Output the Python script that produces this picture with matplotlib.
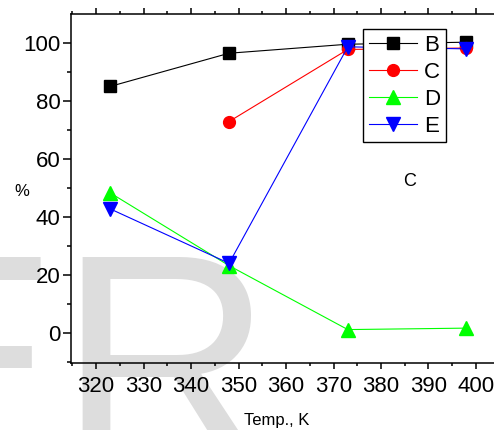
import matplotlib
matplotlib.use('Agg')
import matplotlib.pyplot as plt
from matplotlib.ticker import MultipleLocator

plt.rcParams['font.family'] = ['Liberation Sans', 'DejaVu Sans']

# Dados
temp = [323, 348, 373, 398]
serie_b = [85, 96.4, 99.5, 100.2]
temp_c = [348, 373, 398]
serie_c = [72.9, 97.7, 98.2]
serie_d = [48.3, 23.3, 1.3, 1.8]
serie_e = [42.8, 24.1, 98.6, 97.9]

fig = plt.figure(figsize=(4.94, 4.30), dpi=100)

# marca d'água ao fundo
fig.text(-0.2815, -0.0744, 'ER', fontsize=214, color='#dddddd',
         ha='left', va='baseline', zorder=-5)

ax = fig.add_axes([71 / 494, 67 / 430, 1 - 71 / 494, (363 - 14) / 430])
ax.patch.set_visible(False)

ax.plot(temp, serie_b, '-', color='black', lw=0.8, marker='s', ms=8.5, label='B')
ax.plot(temp_c, serie_c, '-', color='red', lw=0.8, marker='o', ms=8.5, label='C')
ax.plot(temp, serie_d, '-', color='#00ff00', lw=0.8, marker='^', ms=10.5, label='D')
ax.plot(temp, serie_e, '-', color='blue', lw=0.8, marker='v', ms=10.5, label='E')

ax.set_xlim(314.7, 403.8)
ax.set_ylim(-10.2, 109.9)
ax.xaxis.set_major_locator(MultipleLocator(10))
ax.xaxis.set_minor_locator(MultipleLocator(5))
ax.yaxis.set_major_locator(MultipleLocator(20))
ax.yaxis.set_minor_locator(MultipleLocator(10))

ax.spines['right'].set_visible(False)
for s in ['left', 'bottom', 'top']:
    ax.spines[s].set_linewidth(1.1)

ax.tick_params(axis='both', which='both', direction='out', width=1.1, labelsize=16)
ax.tick_params(axis='y', which='major', length=5.5, pad=2)
ax.tick_params(axis='y', which='minor', length=3)
ax.tick_params(axis='x', which='major', length=4, pad=5)
ax.tick_params(axis='x', which='minor', length=2.5)
ax.tick_params(axis='x', which='both', top=True, labeltop=False)

fig.text(22 / 494, 1 - 192 / 430, '%', fontsize=12, ha='center', va='center')
fig.text(277 / 494, 1 - 421 / 430, 'Temp., K', fontsize=12, ha='center', va='center')
fig.text(410 / 494, 1 - 182 / 430, 'C', fontsize=13, ha='center', va='center')

leg = ax.legend(loc='upper left', bbox_to_anchor=(363 / 494, 1 - 29 / 430),
                bbox_transform=fig.transFigure, fontsize=16, frameon=True,
                fancybox=False, edgecolor='black', framealpha=1,
                handlelength=2.2, handletextpad=0.3, labelspacing=0.27,
                borderpad=0.25, borderaxespad=0)
leg.get_frame().set_linewidth(1.0)

plt.savefig('out.png', dpi=100)
plt.close()
